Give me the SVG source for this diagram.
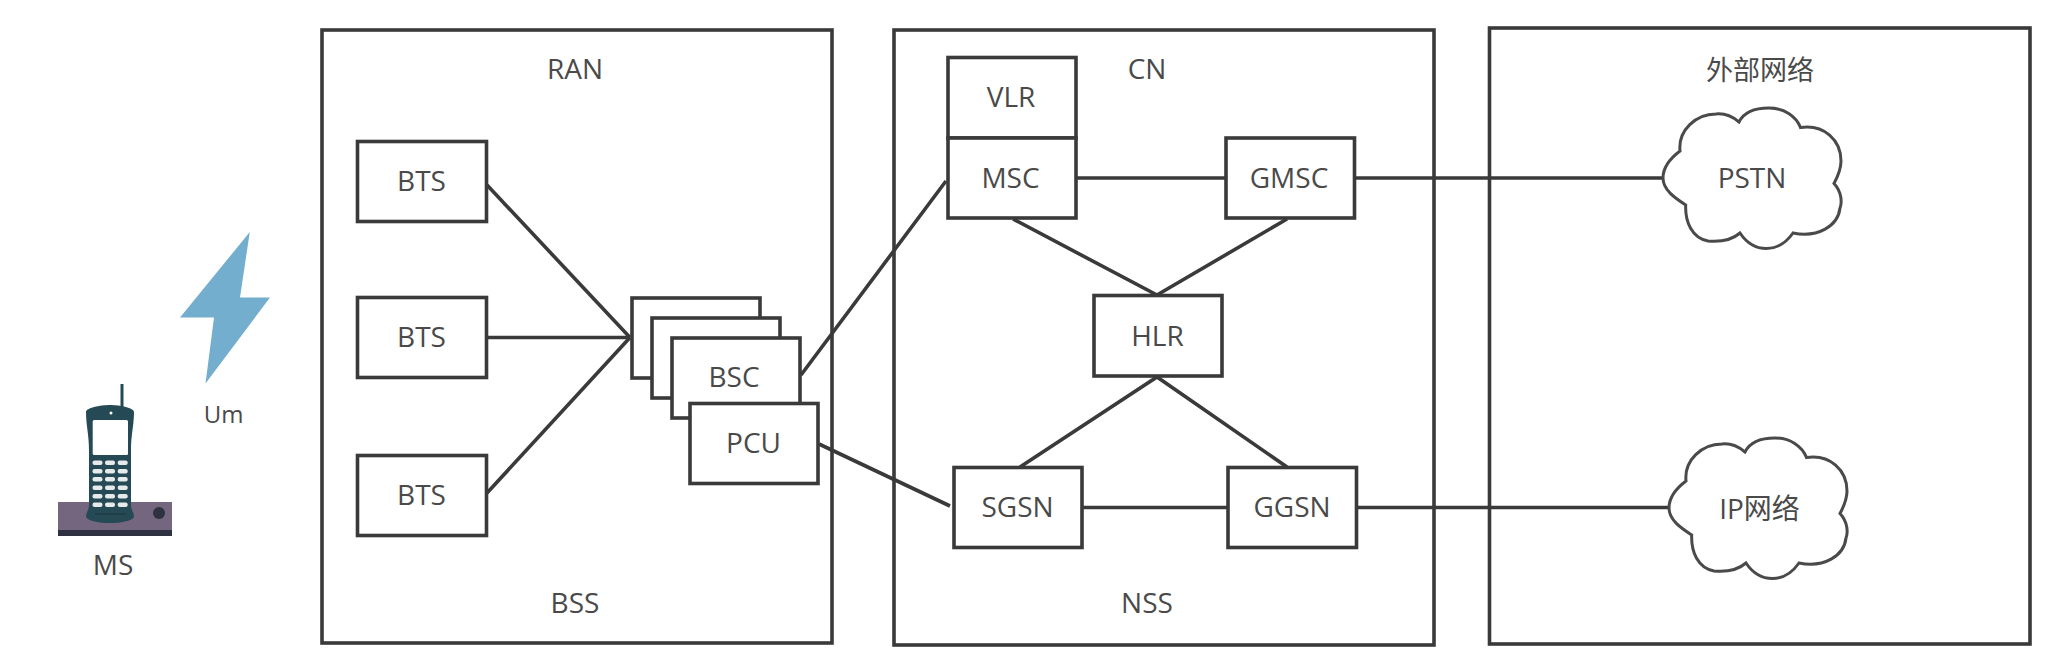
<svg xmlns="http://www.w3.org/2000/svg" xmlns:xlink="http://www.w3.org/1999/xlink" width="2050" height="666" viewBox="0 0 2050 666">
<style>
text{font-family:"Open Sans","Noto Sans CJK SC",sans-serif;font-size:28px;fill:#4a4a4a;text-anchor:middle}
.c{fill:none;stroke:#3a3a3a;stroke-width:3.6}
.b{fill:#fff;stroke:#3a3a3a;stroke-width:3.6}
.l{stroke:#3a3a3a;stroke-width:3.6;fill:none}
.k{fill:#e6eaea}
.cl{fill:#fff;stroke:#4a4a4a;stroke-width:3}
</style>
<defs>
<path id="cloud" d="M1663 178C1663 166 1672 157 1680 151C1678 130 1696 114 1716 114C1726 113 1733 117 1739 122C1744 112 1755 108 1769 108C1784 108 1796 116 1800.500 127.500C1824 124 1841 140 1841 161C1841 169 1838 176 1834 183.500C1842 192 1842 203 1840 208C1838 226 1818 238 1793 233C1786 243 1778 248.500 1766.500 248.500C1755 248.500 1746 242 1740 233C1732 240 1720 242 1708 241C1692 238 1685 222 1685.700 205C1675 198 1663 190 1663 178Z"/>
</defs>
<rect width="2050" height="666" fill="#fff"/>
<g id="containers">
<g id="bss-box"><rect class="c" x="322" y="30" width="510" height="613"/><text x="575" y="79">RAN</text><text x="575" y="613">BSS</text></g>
<g id="nss-box"><rect class="c" x="894" y="30" width="540" height="615"/><text x="1147" y="79">CN</text><text x="1147" y="613">NSS</text></g>
<g id="external-box"><rect class="c" x="1489.500" y="28" width="540.500" height="616"/><text x="1760" y="80" style="font-size:27px">外部网络</text></g>
</g>
<g id="connectors">
<path class="l" d="M487 185L630 337.500"/>
<path class="l" d="M487 337.500L630 337.500"/>
<path class="l" d="M487 493L630 337.500"/>
<path class="l" d="M801 375L946 181"/>
<path class="l" d="M819 444L950 506"/>
<path class="l" d="M1076 178L1226 178"/>
<path class="l" d="M1354 178L1663 178"/>
<path class="l" d="M1013 219L1157 295L1287 219"/>
<path class="l" d="M1020 467L1157 377L1287 467"/>
<path class="l" d="M1082 507.500L1228 507.500"/>
<path class="l" d="M1356 507.500L1669 507.500"/>
</g>
<g id="ms">
<rect x="58" y="502" width="114" height="34" fill="#75667f"/>
<rect x="58" y="530" width="114" height="6" fill="#2e3140"/>
<circle cx="159" cy="513" r="6" fill="#2e3140"/>
<path d="M122 384V407" stroke="#254a55" stroke-width="3" fill="none"/>
<path d="M86 412C86 408 100 405 110 405C120 405 134 408 134 412C134 425 131 435 131 450V505C131 510 134 512 134 517C132 521 120 523 110 523C100 523 88 521 86 517C86 512 89 510 89 505V450C89 435 86 425 86 412Z" fill="#254a55"/>
<rect x="92.700" y="420" width="35.300" height="35" rx="1.500" fill="#fff"/>
<circle cx="111" cy="413" r="1.500" fill="#fff"/>
<g>
<rect class="k" x="92.500" y="460.500" width="10" height="4.500" rx="2"/><rect class="k" x="105" y="460.500" width="10" height="4.500" rx="2"/><rect class="k" x="117.700" y="460.500" width="10" height="4.500" rx="2"/>
<rect class="k" x="92.500" y="469" width="10" height="4.500" rx="2"/><rect class="k" x="105" y="469" width="10" height="4.500" rx="2"/><rect class="k" x="117.700" y="469" width="10" height="4.500" rx="2"/>
<rect class="k" x="92.500" y="477" width="10" height="4.500" rx="2"/><rect class="k" x="105" y="477" width="10" height="4.500" rx="2"/><rect class="k" x="117.700" y="477" width="10" height="4.500" rx="2"/>
<rect class="k" x="92.500" y="485.500" width="10" height="4.500" rx="2"/><rect class="k" x="105" y="485.500" width="10" height="4.500" rx="2"/><rect class="k" x="117.700" y="485.500" width="10" height="4.500" rx="2"/>
<rect class="k" x="92.500" y="494" width="10" height="4.500" rx="2"/><rect class="k" x="105" y="494" width="10" height="4.500" rx="2"/><rect class="k" x="117.700" y="494" width="10" height="4.500" rx="2"/>
<rect class="k" x="92.500" y="502.500" width="10" height="4.500" rx="2"/><rect class="k" x="105" y="502.500" width="10" height="4.500" rx="2"/><rect class="k" x="117.700" y="502.500" width="10" height="4.500" rx="2"/>
</g>
<path d="M95 514H126" stroke="#1c3a44" stroke-width="1.200"/>
<text x="113" y="575">MS</text>
</g>
<g id="um">
<polygon points="249.800,232 240,297.500 270,297.500 205.500,383.500 214,317.500 180,317.500" fill="#74aecf"/>
<text x="223.500" y="423" style="font-size:24px">Um</text>
</g>
<g id="bts1"><rect class="b" x="357.500" y="141.500" width="129" height="80"/><text x="421.500" y="191">BTS</text></g>
<g id="bts2"><rect class="b" x="357.500" y="297.500" width="129" height="80"/><text x="421.500" y="347">BTS</text></g>
<g id="bts3"><rect class="b" x="357.500" y="455.500" width="129" height="80"/><text x="421.500" y="505">BTS</text></g>
<g id="bsc-back1"><rect class="b" x="632" y="298" width="128" height="80"/></g>
<g id="bsc-back2"><rect class="b" x="652" y="318" width="128" height="80"/></g>
<g id="bsc"><rect class="b" x="672" y="338" width="128" height="80"/><text x="734" y="387">BSC</text></g>
<g id="pcu"><rect class="b" x="690" y="403.500" width="128" height="80"/><text x="753.500" y="453">PCU</text></g>
<g id="vlr"><rect class="b" x="948" y="57.500" width="128" height="80.500"/><text x="1011" y="107">VLR</text></g>
<g id="msc"><rect class="b" x="948" y="138" width="128" height="80"/><text x="1010.500" y="187.500">MSC</text></g>
<g id="gmsc"><rect class="b" x="1226" y="138" width="128.500" height="80"/><text x="1289" y="187.500">GMSC</text></g>
<g id="hlr"><rect class="b" x="1094" y="295.500" width="128" height="80.500"/><text x="1157.500" y="345.500">HLR</text></g>
<g id="sgsn"><rect class="b" x="954" y="467.500" width="128" height="80"/><text x="1017.500" y="517">SGSN</text></g>
<g id="ggsn"><rect class="b" x="1228" y="467.500" width="128.500" height="80"/><text x="1292" y="517">GGSN</text></g>
<g id="pstn"><use xlink:href="#cloud" href="#cloud" class="cl"/><text x="1752" y="187.500">PSTN</text></g>
<g id="ip"><use xlink:href="#cloud" href="#cloud" class="cl" transform="translate(6,330)"/><text x="1759.500" y="519">IP网络</text></g>
</svg>
